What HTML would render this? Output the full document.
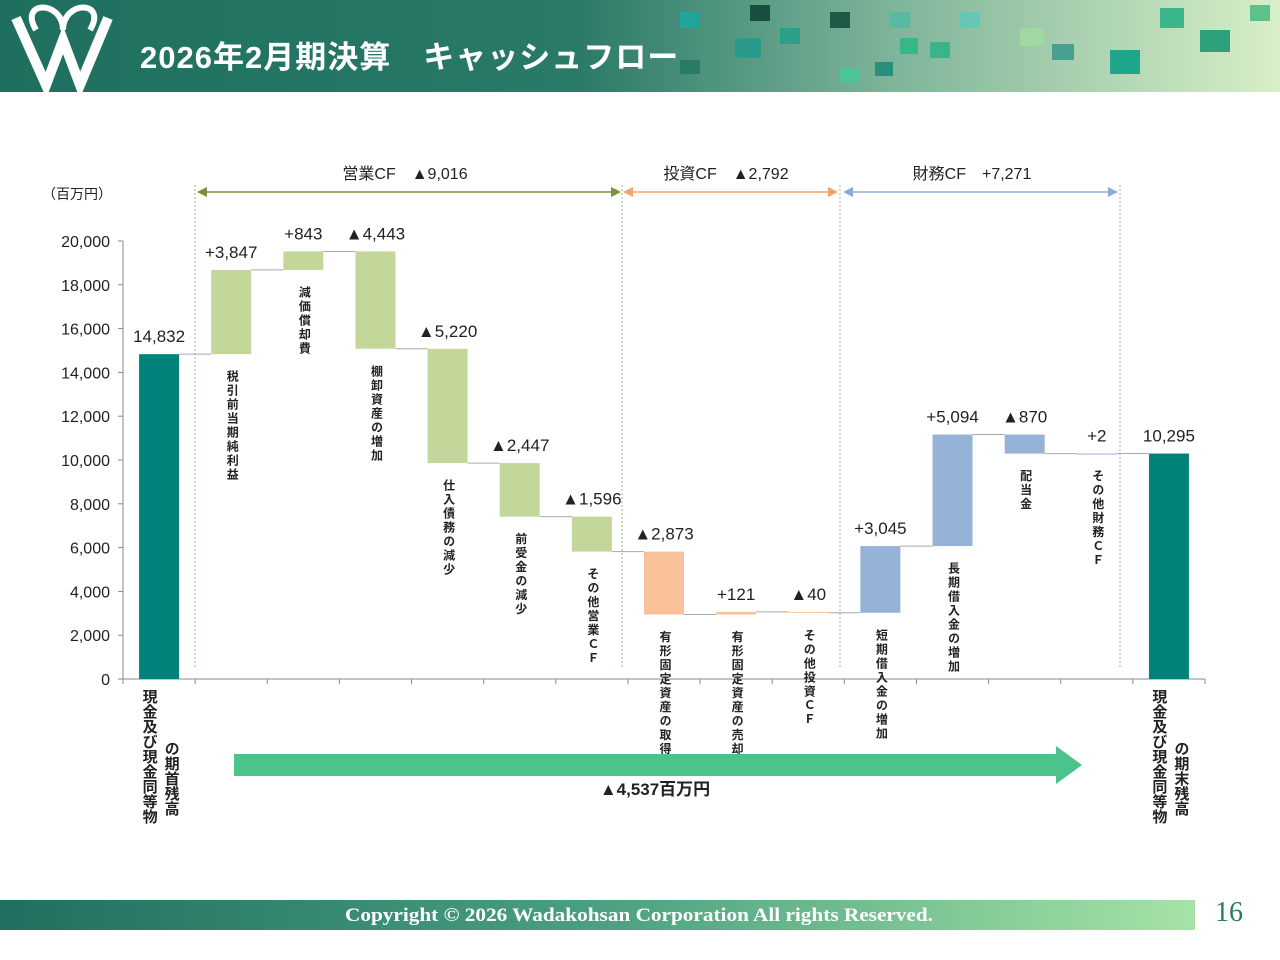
<!DOCTYPE html>
<html><head><meta charset="utf-8">
<style>
body{margin:0;width:1280px;height:960px;background:#fff;position:relative;overflow:hidden;font-family:"Liberation Sans","Noto Sans CJK JP",sans-serif}
#hdr{position:absolute;left:0;top:0;width:1280px;height:92px;background:linear-gradient(90deg,#1f6f60 0%,#2a7a68 45%,#7fb59a 70%,#d8efc8 100%)}
#hdr .t{position:absolute;left:140px;top:32px;color:#fff;font-size:31px;font-weight:bold;letter-spacing:1px}
#ftr{position:absolute;left:0;top:900px;width:1195px;height:30px;background:linear-gradient(90deg,#1f6f60 0%,#4aa080 50%,#a6e3a6 100%)}
#pg{position:absolute;left:1215px;top:897px;color:#2a7a68;font-family:"Liberation Serif",serif;font-size:28px}
svg text{font-family:"Liberation Sans","Noto Sans CJK JP",sans-serif}
</style></head><body>
<div id="hdr">
<svg width="110" height="92" style="position:absolute;left:8px;top:0">
<path d="M8 18 L38 85 L55 40 L72 85 L100 18" stroke="#fff" stroke-width="10" fill="none"/>
<path d="M28 30 C10 0 55 0 55 30 C55 0 100 0 82 30" stroke="#fff" stroke-width="6" fill="none"/>
</svg>
<div class="t">2026年2月期決算　キャッシュフロー</div>
<svg width="600" height="92" style="position:absolute;left:680px;top:0">
<rect x="0" y="12" width="20" height="16" fill="#1fa59a"/><rect x="70" y="5" width="20" height="16" fill="#164f40"/>
<rect x="55" y="38" width="26" height="20" fill="#2a9a8a"/><rect x="150" y="12" width="20" height="16" fill="#1e5a46"/>
<rect x="210" y="12" width="20" height="16" fill="#5ab9a5"/><rect x="220" y="38" width="18" height="16" fill="#39b58a"/>
<rect x="280" y="12" width="20" height="16" fill="#66c7b6"/><rect x="250" y="42" width="20" height="16" fill="#39b58a"/>
<rect x="160" y="68" width="20" height="14" fill="#4cc49a"/><rect x="195" y="62" width="18" height="14" fill="#2a8f7a"/>
<rect x="340" y="28" width="24" height="18" fill="#9fd8a2"/><rect x="372" y="44" width="22" height="16" fill="#4aa090"/>
<rect x="430" y="50" width="30" height="24" fill="#1fa58a"/><rect x="480" y="8" width="24" height="20" fill="#3bb58a"/>
<rect x="520" y="30" width="30" height="22" fill="#2ea07a"/><rect x="570" y="5" width="20" height="16" fill="#5ec08a"/>
<rect x="0" y="60" width="20" height="14" fill="#2a7a68"/><rect x="100" y="28" width="20" height="16" fill="#2aa08a"/>
</svg>
</div>
<svg id="chart" width="1280" height="960" style="position:absolute;left:0;top:0"></svg>
<div id="ftr">
<svg width="1195" height="30" style="position:absolute;left:0;top:0"><text x="345" y="21" textLength="588" lengthAdjust="spacingAndGlyphs" fill="#fff" font-size="19" font-weight="bold" style="font-family:'Liberation Serif',serif">Copyright © 2026  Wadakohsan Corporation All rights Reserved.</text></svg>
</div>
<div id="pg">16</div>
<script>
const categories=["現金及び現金同等物の期首残高","税引前当期純利益","減価償却費","棚卸資産の増加","仕入債務の減少","前受金の減少","その他営業ＣＦ","有形固定資産の取得","有形固定資産の売却","その他投資ＣＦ","短期借入金の増加","長期借入金の増加","配当金","その他財務ＣＦ","現金及び現金同等物の期末残高"];
const values=[14832,3847,843,-4443,-5220,-2447,-1596,-2873,121,-40,3045,5094,-870,2,10295];
const valueLabels=["14,832","+3,847","+843","▲4,443","▲5,220","▲2,447","▲1,596","▲2,873","+121","▲40","+3,045","+5,094","▲870","+2","10,295"];
const groups=["total","op","op","op","op","op","op","inv","inv","inv","fin","fin","fin","fin","total"];
const yTicks=[0,2000,4000,6000,8000,10000,12000,14000,16000,18000,20000];
const NS="http://www.w3.org/2000/svg",svg=document.getElementById('chart');
const X0=123,X1=1205,Y0=679,Y1=241,YMAX=20000;
const n=categories.length,cw=(X1-X0)/n,bw=40;
const y=v=>Y0-(v/YMAX)*(Y0-Y1);
const xc=i=>X0+cw*(i+0.5);
const colors={op:"#c4d79b",inv:"#f9c199",fin:"#95b3d7",total:"#00827a"};
function el(t,a,txt){const e=document.createElementNS(NS,t);for(const k in a)e.setAttribute(k,a[k]);if(txt!==undefined)e.textContent=txt;svg.appendChild(e);return e;}
let ax=el('line',{x1:X0,y1:Y1,x2:X0,y2:Y0,stroke:"#888"});


let bx=el('line',{x1:X0,y1:Y0,x2:X1,y2:Y0,stroke:"#888"});


yTicks.forEach(v=>{
 el('line',{x1:X0-5,y1:y(v),x2:X0,y2:y(v),stroke:"#888"});
 const t=el('text',{x:X0-13,y:y(v)+6,"text-anchor":"end","font-size":16,fill:"#222"},v.toLocaleString('en-US'));
 
 
});
for(let i=0;i<=n;i++)el('line',{x1:X0+cw*i,y1:Y0,x2:X0+cw*i,y2:Y0+5,stroke:"#888"});
const u=el('text',{x:42,y:199,"font-size":14,fill:"#222"},"（百万円）");


let run=0;
values.forEach((v,i)=>{
 let lo,hi;
 if(groups[i]==="total"){lo=0;hi=v;run=v;}
 else{const s=run;run+=v;lo=Math.min(s,run);hi=Math.max(s,run);}
 const b=el('rect',{x:xc(i)-bw/2,y:y(hi),width:bw,height:Math.max(1,y(lo)-y(hi)),fill:colors[groups[i]]});
 
 
 if(i<n-1){el('line',{x1:xc(i)+bw/2,y1:y(run),x2:xc(i+1)-bw/2,y2:y(run),stroke:"#aaa","stroke-width":1});}
 const lab=el('text',{x:xc(i),y:y(hi)-12,"text-anchor":"middle","font-size":17,fill:"#222"},valueLabels[i]);
 
 
 if(groups[i]==="total"){
  const a=categories[i].slice(0,9),bb=categories[i].slice(9);
  const t1=el('text',{x:xc(i)-10,y:Y0+10,"font-size":15,"font-weight":"bold",fill:"#222","writing-mode":"tb","glyph-orientation-vertical":0},a);
  
  
  const t2=el('text',{x:xc(i)+12,y:Y0+62,"font-size":15,"font-weight":"bold",fill:"#222","writing-mode":"tb","glyph-orientation-vertical":0},bb);
  
  
 }else{
  const t=el('text',{x:xc(i)+1,y:y(lo)+16,"font-size":12,"font-weight":"bold",fill:"#222","writing-mode":"tb","glyph-orientation-vertical":0,"letter-spacing":2},categories[i]);
  
  
 }
});
[195,622,840,1120].forEach(x=>el('line',{x1:x,y1:185,x2:x,y2:668,stroke:"#9bbf7a","stroke-dasharray":"2,2"}));
function bracket(x1,x2,col,name,label,lx){
 el('line',{x1:x1+8,y1:192,x2:x2-8,y2:192,stroke:col,"stroke-width":1.5});
 el('path',{d:`M${x1} 192 l10 -5 v10z M${x2} 192 l-10 -5 v10z`,fill:col});
 const t=el('text',{x:lx,y:179,"text-anchor":"middle","font-size":16,fill:"#222"},label);
 
 
}
bracket(197,621,"#76923c","operating-cf-label","営業CF　▲9,016",405);
bracket(623,838,"#f4a46a","investing-cf-label","投資CF　▲2,792",726);
bracket(843,1118,"#8eaadb","financing-cf-label","財務CF　+7,271",972);
const ar=el('path',{d:"M234 754 H1056 V746 L1082 765 L1056 784 V776 H234 Z",fill:"#4cc38a"});


const nt=el('text',{x:655,y:795,"text-anchor":"middle","font-size":17,"font-weight":"bold",fill:"#222"},"▲4,537百万円");


</script>
</body></html>
